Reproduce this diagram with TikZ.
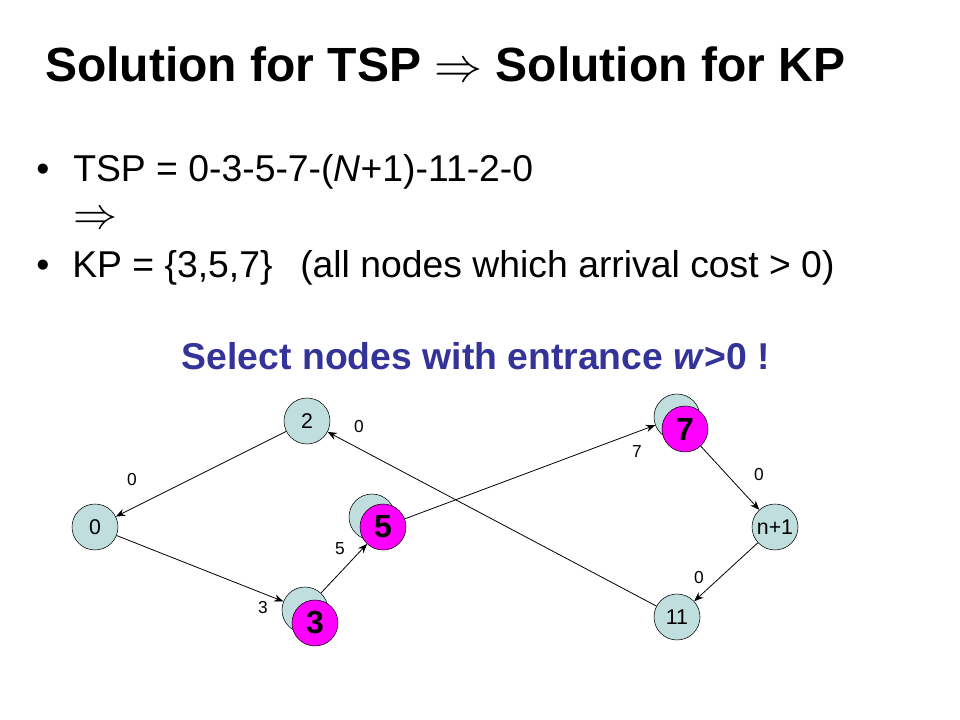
\RequirePackage{fix-cm}
\documentclass[tikz,border=0pt]{standalone}
\usepackage{fontspec}
\setmainfont{Liberation Sans}
\usetikzlibrary{positioning,arrows.meta}
\definecolor{citycyan}{RGB}{192,222,222}
\definecolor{pickmag}{RGB}{255,0,255}
\definecolor{noteblue}{RGB}{51,51,153}
\newcommand{\citysize}{34.5pt}
\newcommand{\fsize}[1]{\fontsize{#1}{1.2\dimexpr#1pt\relax}\selectfont}
\tikzstyle{city}=[shape=circle,draw=black,fill=citycyan,text=black,
                  minimum size=\citysize,inner sep=0pt,font=\fsize{16}]
\tikzstyle{picked}=[city,fill=pickmag,font=\fsize{24}\bfseries]
\tikzstyle{cost}=[fill=none,draw=none,inner sep=0pt,font=\fsize{13}]
\tikzstyle{line}=[fill=none,draw=none,anchor=base west,inner sep=0pt,font=\fsize{28}]
\tikzstyle{arc}=[-{Stealth[length=7pt,width=5.5pt]},semithick]

\begin{document}
\begin{tikzpicture}[x=0.75pt,y=-0.75pt]
\useasboundingbox (0,0) rectangle (960,720);

\node [line, font=\fsize{36}\bfseries] (title) at (45,82) {Solution for TSP $\Rightarrow$ Solution for KP};

\node [line] (dot1) at (36,182) {\textbullet};
\node [line] (tsp) at (73,182) {TSP = 0-3-5-7-(\textit{N}+1)-11-2-0};
\node [line, font=\fsize{33}] (imp) at (73,229) {$\Rightarrow$};
\node [line] (dot2) at (36,278) {\textbullet};
\node [line] (kp) at (72,278) {KP = \{3,5,7\}};
\node [line] (why) at (300,278) {(all nodes which arrival cost > 0)};

\node [line, anchor=base, font=\fsize{28}\bfseries, text=noteblue] (hint) at (476,369)
      {Select nodes with entrance \textit{w}>0 !};

% tour nodes, picked ones drawn over their plain twin
\node [city] (n0) at (95,527) {0};
\node [city] (n2) at (307,421) {2};
\node [city] (g3) at (305,610) {};
\node [picked] (n3) at (315,623) {3};
\node [city] (g5) at (372,517) {};
\node [picked] (n5) at (383,527) {5};
\node [city] (g7) at (677,417) {};
\node [picked] (n7) at (685,429) {7};
\node [city] (nN) at (775,527) {n+1};
\node [city] (n11) at (677,617) {11};

\draw [arc] (n2) -- (n0);
\draw [arc] (n0) -- (g3);
\draw [arc] (g3) -- (n5);
\draw [arc] (n5) -- (g7);
\draw [arc] (n7) -- (nN);
\draw [arc] (nN) -- (n11);
\draw [arc] (n11) -- (n2);

\node [cost] (c20) at (132,480) {0};
\node [cost] (c112) at (359,427) {0};
\node [cost] (c03) at (263,608) {3};
\node [cost] (c35) at (340,549) {5};
\node [cost] (c57) at (637,452) {7};
\node [cost] (c7N) at (759,475) {0};
\node [cost] (cN11) at (699,578) {0};
\end{tikzpicture}
\end{document}
